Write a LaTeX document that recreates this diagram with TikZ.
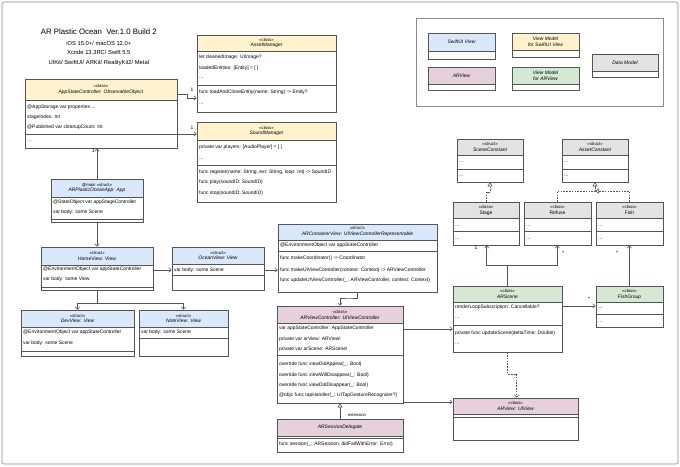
\documentclass[tikz,border=0pt]{standalone}
\usepackage{fontspec}
\setmainfont{Liberation Sans}
\usetikzlibrary{arrows.meta,fit}
\definecolor{cblue}{HTML}{DAE8FC}
\definecolor{cyellow}{HTML}{FFF2CC}
\definecolor{cpink}{HTML}{E6D0DE}
\definecolor{cgreen}{HTML}{D5E8D4}
\definecolor{cgray}{HTML}{E3E3E3}
\definecolor{cline}{HTML}{555555}
\definecolor{cframe}{HTML}{8A8A8A}
\tikzset{
  boxline/.style={draw=cline, line width=0.55pt},
  txt/.style={font=\fontsize{4.95}{5.8}\selectfont, inner sep=0pt, anchor=west},
  hdr/.style={font=\fontsize{4.95}{5.8}\selectfont, inner sep=0pt, align=center},
  lbl/.style={font=\fontsize{4.95}{5.8}\selectfont, inner sep=0pt},
  conn/.style={draw=cline, line width=0.55pt},
  arr/.style={conn, -{Straight Barb[length=2.5pt,width=4.5pt]}},
  inh/.style={conn, -{Triangle[open,length=4pt,width=5pt]}},
  real/.style={conn, dash pattern=on 1.6pt off 1.2pt, -{Triangle[open,length=4pt,width=5pt]}},
  dep/.style={conn, dash pattern=on 1.6pt off 1.2pt, -{Straight Barb[length=2.5pt,width=4.5pt]}},
  titletxt/.style={font=\fontsize{7.8}{9}\selectfont, inner sep=0pt},
  subtxt/.style={font=\fontsize{5.8}{7}\selectfont, inner sep=0pt},
}
\newcommand{\ster}[1]{{\fontsize{4.3}{5.8}\selectfont #1}}
\newcommand{\cname}[1]{{\itshape #1}}
\newcommand{\umlbox}[8]{%
  \fill[#7] (#2,#3) rectangle (#4,#6);
  \node[boxline, inner sep=0pt, fit={(#2,#3) (#4,#5)}] (#1) {};
  \draw[boxline] (#2,#6) -- (#4,#6);
  \node[hdr] (#1-h) at ({(#2+#4)/2},{(#3+#6)/2}) {#8};
}
\newcommand{\tline}[4]{\node[txt] (#1) at (#2,#3) {#4};}
\newcommand{\usep}[2]{\draw[boxline] (#1.west |- 0,#2) -- (#1.east |- 0,#2);}
\begin{document}
\begin{tikzpicture}[x=1pt,y=-1pt]
\fill[white] (0,0) rectangle (680,466);
\useasboundingbox (0,0) rectangle (680,466);
\draw[cframe, line width=0.6pt, rounded corners=2pt] (2,2) rectangle (678,464);

% title
\node[titletxt] (t0) at (98.8,32) {AR Plastic Ocean\ \ Ver.1.0 Build 2};
\node[subtxt] (t1) at (98.8,43) {iOS 15.0+/ macOS 12.0+};
\node[subtxt] (t2) at (98.8,52.5) {Xcode 13.3RC/ Swift 5.5};
\node[subtxt] (t3) at (98.8,62.5) {UIKit/ SwiftUI/ ARKit/ RealityKit2/ Metal};

% legend
\draw[cframe, line width=0.6pt] (416,18) rectangle (663,106);
\umlbox{lsw}{428}{33}{495}{59}{51}{cblue}{\cname{SwiftUI View}}
\umlbox{lvm}{512}{33}{579}{57}{50}{cyellow}{\cname{View Model}\\\cname{for SwiftUI View}}
\umlbox{lar}{428}{67}{495}{90}{84}{cpink}{\cname{ARView}}
\umlbox{lvma}{512}{67}{579}{90}{84}{cgreen}{\cname{View Model}\\\cname{for ARView}}
\umlbox{ldm}{592}{54}{658}{77}{71}{cgray}{\cname{Data Model}}

% AppStateController
\umlbox{asc}{25}{79}{177}{148}{100}{cyellow}{\ster{«class»}\\\cname{AppStateController: ObservableObject}}
\tline{asc1}{27}{107.5}{@AppStorage var properties ...}
\tline{asc2}{27}{117.7}{stageIndex: Int}
\tline{asc3}{27}{127.7}{@Published var cleanupCount: Int}
\usep{asc}{134.3}
\tline{asc4}{27}{141.5}{...}

% AssetManager
\umlbox{am}{197}{35}{336}{112}{51}{cyellow}{\ster{«class»}\\\cname{AssetManager}}
\tline{am1}{199}{57}{let cleanedImage: UIImage?}
\tline{am2}{199}{68}{loadedEntities: [Entity] = [ ]}
\tline{am3}{199}{78.5}{...}
\usep{am}{85}
\tline{am4}{199}{92}{func loadAndCloneEntity(name: String) -> Entity?}
\tline{am5}{199}{104}{...}

% SoundManager
\umlbox{sm}{197}{122}{336}{202}{140}{cyellow}{\ster{«class»}\\\cname{SoundManager}}
\tline{sm1}{199}{147.3}{private var players: [AudioPlayer] = [ ]}
\tline{sm2}{199}{159}{...}
\usep{sm}{165.7}
\tline{sm3}{199}{172.3}{func register(name: String, ext: String, loop: Int) -> SoundID}
\tline{sm4}{199}{182.7}{func play(soundID: SoundID)}
\tline{sm5}{199}{193.7}{func stop(soundID: SoundID)}

% ARPlasticOceanApp
\umlbox{app}{51}{179}{143}{222}{197}{cblue}{\ster{@main «struct»}\\\cname{ARPlasticOceanApp: App}}
\tline{app1}{53}{202.3}{@StateObject var appStageController}
\tline{app2}{53}{212.7}{var body: some Scene}
\usep{app}{219.5}

% HomeView
\umlbox{home}{41}{247}{153}{290}{265}{cblue}{\ster{«struct»}\\HomeView: View}
\tline{home1}{43}{269.3}{@EnvironmentObject var appStateController}
\tline{home2}{43}{279.3}{var body: some View}
\usep{home}{287}

% OceanView
\umlbox{ocean}{172}{247}{264}{290}{264.3}{cblue}{\ster{«struct»}\\\cname{OceanView: View}}
\tline{ocean1}{174}{270}{var body: some Scene}
\usep{ocean}{275.5}

% ARContainerView
\umlbox{arc}{278}{224}{437}{292}{240}{cblue}{\ster{«struct»}\\\cname{ARContainerView: UIViewControllerRepresentable}}
\tline{arc1}{280}{245.7}{@EnvironmentObject var appStateController}
\usep{arc}{251}
\tline{arc2}{280}{258.3}{func makeCoordinator() -> Coordinator}
\tline{arc3}{280}{270}{func makeUIViewController(context: Context) -> ARViewController}
\tline{arc4}{280}{280.7}{func updateUIViewController(\_: ARViewController, context: Context)}

% DevView
\umlbox{dev}{21}{310}{134}{356}{327.3}{cblue}{\ster{«struct»}\\\cname{DevView: View}}
\tline{dev1}{23}{332.7}{@EnvironmentObject var appStateController}
\tline{dev2}{23}{343.3}{var body: some Scene}
\usep{dev}{351}

% NoteView
\umlbox{note}{139}{310}{228}{356}{327.3}{cblue}{\ster{«struct»}\\\cname{NoteView: View}}
\tline{note1}{141}{332.7}{var body: some Scene}
\usep{note}{338.3}

% ARViewController
\umlbox{arvc}{277}{306}{403}{403}{323.3}{cpink}{\ster{«class»}\\\cname{ARViewController: UIViewController}}
\tline{arvc1}{279}{328.3}{var appStateController: AppStateController}
\tline{arvc2}{279}{339}{private var arView: ARView!}
\tline{arvc3}{279}{349}{private var arScene: ARScene!}
\usep{arvc}{355.7}
\tline{arvc4}{279}{364.3}{override func viewDidAppear(\_: Bool)}
\tline{arvc5}{279}{375}{override func viewWillDisappear(\_: Bool)}
\tline{arvc6}{279}{385.7}{override func viewDidDisappear(\_: Bool)}
\tline{arvc7}{279}{395.7}{@objc func tapHandler(\_: UITapGestureRecognizer?)}

% ARSessionDelegate
\umlbox{asd}{277}{419}{403}{452}{436}{cpink}{\cname{ARSessionDelegate}}
\usep{asd}{438}
\tline{asd1}{279}{444.5}{func session(\_: ARSession, didFailWithError: Error)}

% SceneConstant / AssetConstant
\umlbox{sc}{457}{139}{523}{182}{155}{cgray}{\ster{«struct»}\\\cname{SceneConstant}}
\tline{sc1}{459}{162.3}{...}
\usep{sc}{169}
\tline{sc2}{459}{176}{...}
\umlbox{ac}{562}{139}{628}{182}{155}{cgray}{\ster{«struct»}\\\cname{AssetConstant}}
\tline{ac1}{564}{162.3}{...}
\usep{ac}{169}
\tline{ac2}{564}{176}{...}

% Stage / Refuse / Fish
\umlbox{stage}{453}{202}{519}{245}{218.3}{cgray}{\ster{«class»}\\Stage}
\tline{stage1}{455}{226}{...}
\usep{stage}{231.7}
\tline{stage2}{455}{239.3}{...}
\umlbox{refuse}{524}{202}{591}{245}{218.3}{cgray}{\ster{«class»}\\Refuse}
\tline{refuse1}{526}{226}{...}
\usep{refuse}{231.7}
\tline{refuse2}{526}{239.3}{...}
\umlbox{fish}{596}{202}{663}{245}{218.3}{cgray}{\ster{«class»}\\Fish}
\tline{fish1}{598}{226}{...}
\usep{fish}{231.7}
\tline{fish2}{598}{239.3}{...}

% ARScene / FishGroup
\umlbox{ars}{453}{286}{562}{352}{302.3}{cgreen}{\ster{«class»}\\\cname{ARScene}}
\tline{ars1}{455}{307.3}{renderLoopSubscription: Cancellable?}
\tline{ars2}{455}{318.3}{...}
\usep{ars}{325.7}
\tline{ars3}{455}{333.3}{private func updateScene(deltaTime: Double)}
\tline{ars4}{455}{344.3}{...}
\umlbox{fg}{596}{286}{663}{327}{302.3}{cgreen}{\ster{«class»}\\\cname{FishGroup}}
\tline{fg1}{598}{308.3}{...}
\usep{fg}{314.3}
\tline{fg2}{598}{322.7}{...}

% ARView
\umlbox{arv}{453}{398}{578}{440}{414.3}{cpink}{\ster{«class»}\\\cname{ARView: UIView}}
\usep{arv}{417}

% connectors
\draw[arr] (asc.east |- 0,94) -- (187,94) -- (187,98) -- (am.west |- 0,98);
\node[lbl] (m1) at (192,90) {1};
\draw[arr] (asc.east |- 0,134) -- (sm.west |- 0,134);
\node[lbl] (m2) at (192,127.5) {1};
\draw[arr] (app.north) -- (app.north |- asc.south);
\node[lbl] (m3) at (93.5,151) {1};
\draw[arr] (app.south) -- (home.north);
\draw[arr] (home.east |- 0,270) -- (ocean.west |- 0,270);
\draw[arr] (ocean.east |- 0,270) -- (arc.west |- 0,270);
\draw[arr] (home.south) -- ++(0,13) -| (dev.north);
\draw[arr] (home.south) -- ++(0,13) -| (note.north);
\draw[arr] (arc.south) |- (349,298) -| (arvc.north -| 340,0);
\draw[arr] (arvc.east |- 0,329) -- (ars.west |- 0,329);
\draw[arr] (arvc.east |- 0,402) -- (arv.west |- 0,402);
\draw[inh] (asd.north -| 340,0) -- (arvc.south -| 340,0);
\node[lbl] (ext) at (357,415) {\fontsize{4.2}{5}\selectfont extension};
\draw[arr] (ars.north -| 507.7,0) |- (486.7,265) -- (stage.south -| 486.7,0);
\draw[arr] (ars.north -| 507.7,0) |- (557.3,265) -- (refuse.south -| 557.3,0);
\node[lbl] (m4) at (476,248) {1};
\node[lbl] (m5) at (563,253) {*};
\draw[arr] (fg.north -| 629.3,0) -- (fish.south -| 629.3,0);
\node[lbl] (m6) at (617,253) {*};
\draw[arr] (ars.east |- 0,306) -- (fg.west |- 0,306);
\node[lbl] (m7) at (589,299) {*};
\draw[dep] (ars.south -| 507.7,0) |- (516.7,374) -- (arv.north -| 516.7,0);
\draw[real] (stage.north -| 486.7,0) |- (490,192) -- (sc.south -| 490,0);
\draw[real] (refuse.north -| 557.3,0) |- (595,191) -- (ac.south -| 595,0);
\draw[real] (fish.north -| 629.3,0) |- (595,191);
\end{tikzpicture}
\end{document}
